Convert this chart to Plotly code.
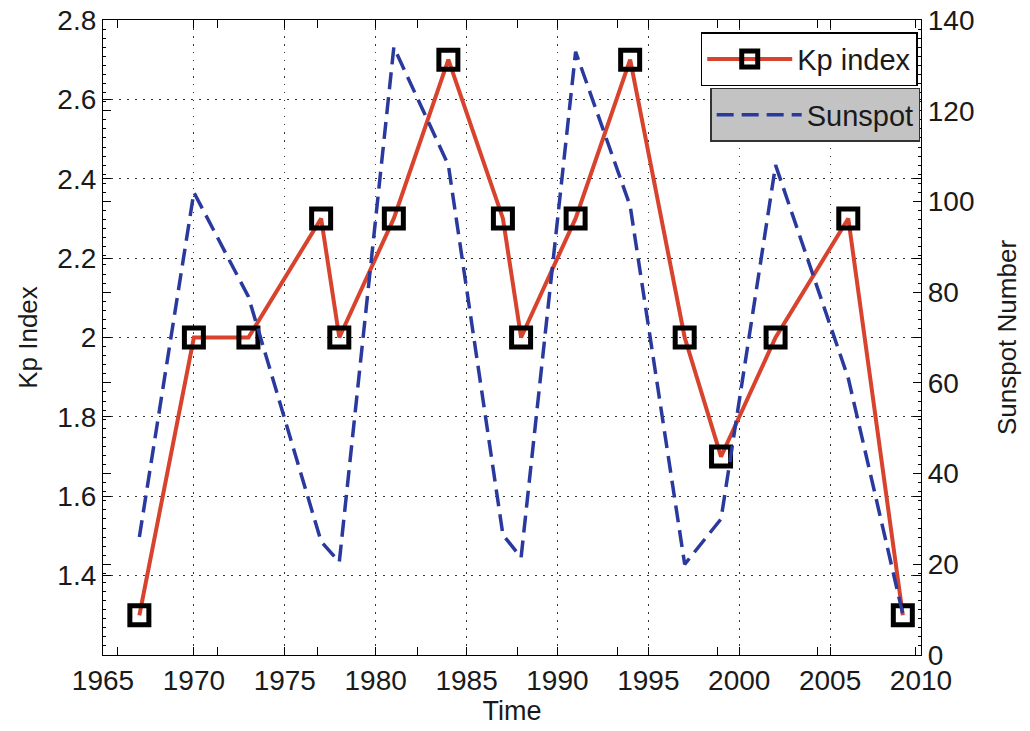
import plotly.graph_objects as go

# ---- data ----
years = [1967, 1970, 1973, 1977, 1978, 1981, 1984, 1987, 1988, 1991, 1994, 1997, 1999, 2002, 2006, 2009]
kp_index = [1.3, 2.0, 2.0, 2.3, 2.0, 2.3, 2.7, 2.3, 2.0, 2.3, 2.7, 2.0, 1.7, 2.0, 2.3, 1.3]
sunspot = [26, 102, 79, 25, 20.5, 134, 108, 26.5, 21.5, 133, 99, 20, 30, 108, 61, 9]

x_ticks = [1965, 1970, 1975, 1980, 1985, 1990, 1995, 2000, 2005, 2010]
x_ticks_second = [1965.8, 1971.3, 1976.8, 1982.3, 1987.8, 1993.3, 1998.8, 2004.3, 2009.7]
kp_ticks = [1.4, 1.6, 1.8, 2.0, 2.2, 2.4, 2.6, 2.8]
kp_tick_labels = ["1.4", "1.6", "1.8", "2", "2.2", "2.4", "2.6", "2.8"]
ss_ticks = [0, 20, 40, 60, 80, 100, 120, 140]

FONT = "Liberation Sans, Arial, Helvetica, sans-serif"
TXT = "#1a1a1a"

fig = go.Figure()

fig.add_trace(go.Scatter(
    x=years, y=sunspot, name="Sunspot", mode="lines",
    line=dict(color="#2a399e", width=3.5, dash="17px,8px"),
    xaxis="x2", yaxis="y2", legend="legend2",
))

fig.add_trace(go.Scatter(
    x=years, y=kp_index, name="Kp index", mode="lines+markers",
    line=dict(color="#d8432e", width=4),
    marker=dict(symbol="square-open", size=19, color="black",
                line=dict(color="black", width=5)),
    xaxis="x", yaxis="y", legend="legend",
))

GRID = dict(showgrid=True, gridcolor="#333333", griddash="1.5px,6.5px", gridwidth=1.3)

axis_common = dict(
    showline=True, linecolor="black", linewidth=1.3,
    ticks="inside", ticklen=8, tickcolor="black", tickwidth=1.2,
    zeroline=False, automargin=False,
    tickfont=dict(family=FONT, size=28, color=TXT),
)

fig.update_layout(
    width=1030, height=731,
    margin=dict(l=103, r=109, t=20, b=76),
    paper_bgcolor="white", plot_bgcolor="white",
    font=dict(family=FONT, color=TXT),
    xaxis=dict(
        **axis_common, **GRID,
        range=[1965, 2010], tickvals=x_ticks, mirror="ticks",
        title=dict(text="Time", font=dict(family=FONT, size=27, color=TXT), standoff=4),
        anchor="y",
    ),
    yaxis=dict(
        **axis_common, **GRID,
        range=[1.2, 2.8], tickvals=kp_ticks, ticktext=kp_tick_labels, mirror="ticks",
        title=dict(text="Kp Index", font=dict(family=FONT, size=26, color=TXT), standoff=12),
        anchor="x",
    ),
    xaxis2=dict(
        range=[1965, 2010], overlaying="x", anchor="y", side="bottom",
        tickvals=x_ticks_second, showticklabels=False,
        ticks="inside", ticklen=8, tickcolor="black", tickwidth=1.2, mirror="ticks",
        showline=False, showgrid=False, zeroline=False, automargin=False,
    ),
    yaxis2=dict(
        **axis_common,
        range=[0, 140], tickvals=ss_ticks, overlaying="y", side="right", anchor="x2",
        mirror="ticks", showgrid=False,
        minor=dict(ticks="inside", ticklen=3, tickcolor="black", dtick=2, showgrid=False),
        title=dict(text="Sunspot Number", font=dict(family=FONT, size=26, color=TXT), standoff=24),
    ),
    legend=dict(
        x=0.996, y=0.981, xanchor="right", yanchor="top",
        bgcolor="white", bordercolor="black", borderwidth=1.5,
        font=dict(family=FONT, size=29, color=TXT),
        itemwidth=85,
    ),
    legend2=dict(
        x=0.999, y=0.893, xanchor="right", yanchor="top",
        bgcolor="#c3c3c3", bordercolor="#333333", borderwidth=1.5,
        font=dict(family=FONT, size=29, color=TXT),
        itemwidth=85,
    ),
    showlegend=True,
)

# remove the page's default 8px body margin so the figure fills the window exactly
fig.write_html("out.html", config={"displayModeBar": False},
               post_script="document.body.style.margin='0';")
